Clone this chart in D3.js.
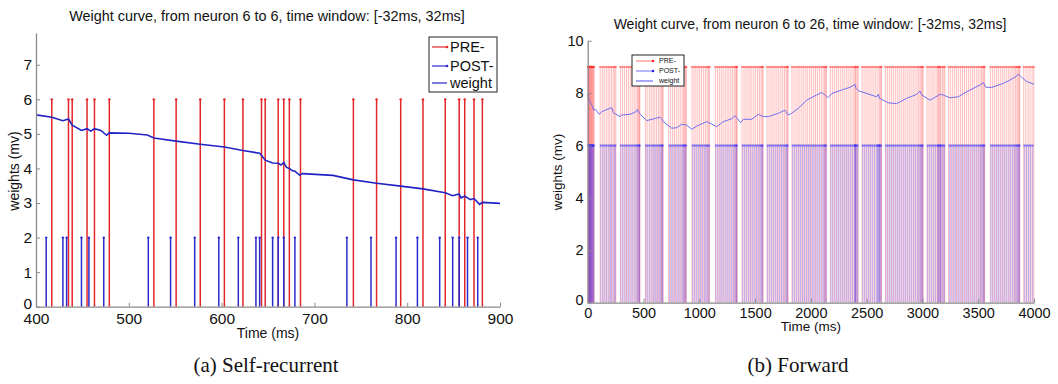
<!DOCTYPE html>
<html>
<head>
<meta charset="utf-8">
<script src="https://cdn.jsdelivr.net/npm/d3@7"></script>
<style>
    body { margin: 0; background: #fff; }
    text { font-family: "Liberation Sans", Arial, sans-serif; }
    .caption { font-family: "Liberation Serif", "DejaVu Serif", serif; }
</style>
</head>
<body>
<svg id="main_svg" width="1058" height="384"></svg>
<script>
// ---- (a) self-recurrent, neuron 6 -> 6 ----
var preA = [417, 435, 439, 455, 463, 479, 527, 551, 577, 603, 623, 643, 647, 661, 667, 673, 685,
            742, 767, 793, 817, 841, 856, 862, 872, 881];
var postA = [411, 429, 433, 449, 457, 473, 521, 545, 571, 597, 618, 637, 641, 655, 661, 667, 679,
             735, 761, 788, 811, 835, 849, 856, 865, 876];
var weightA = [[400, 5.55], [417, 5.48], [429, 5.38], [435, 5.43], [439, 5.25], [449, 5.1], [455, 5.15],
               [459, 5.08], [463, 5.15], [470, 5.1], [476, 4.96], [479, 5.03], [500, 5.02], [520, 4.97],
               [527, 4.88], [551, 4.79], [577, 4.70], [603, 4.62], [623, 4.52], [641, 4.44], [643, 4.38],
               [647, 4.24], [655, 4.16], [661, 4.15], [664, 4.10], [667, 4.17], [670, 4.03], [673, 4.00],
               [676, 3.94], [679, 3.92], [684, 3.81], [687, 3.85], [720, 3.80], [742, 3.67], [767, 3.57],
               [793, 3.49], [817, 3.41], [841, 3.30], [849, 3.21], [856, 3.26], [858, 3.15], [862, 3.20],
               [868, 3.10], [872, 3.13], [878, 2.96], [881, 3.02], [900, 2.99]];
var ticksXA = [400, 500, 600, 700, 800, 900];
var ticksYA = [0, 1, 2, 3, 4, 5, 6, 7];

// ---- (b) forward, neuron 6 -> 26 ----
var preB = [2, 6, 10, 14, 18, 22, 27, 31, 36, 41, 46, 52, 58,
            112, 131, 147, 166, 183, 198, 214, 229, 241, 252,
            293, 311, 329, 348, 364, 381, 399, 417, 433, 446, 455, 464, 468,
            517, 533, 552, 569, 586, 601, 618, 634, 648, 660, 669, 676,
            726, 743, 761, 778, 794, 812, 829, 846, 858, 868, 877, 885,
            935, 953, 970, 988, 1004, 1021, 1039, 1055, 1070, 1082, 1093,
            1144, 1162, 1180, 1197, 1214, 1232, 1249, 1266, 1283, 1299, 1314, 1326, 1334, 1339,
            1383, 1401, 1419, 1437, 1454, 1471, 1489, 1506, 1523, 1539, 1553, 1564, 1571,
            1607, 1625, 1643, 1661, 1678, 1696, 1713, 1731, 1748, 1764, 1778, 1788, 1795,
            1831, 1849, 1867, 1885, 1902, 1920, 1937, 1955, 1972, 1990, 2007, 2025, 2042, 2059, 2077,
            2094, 2110, 2122, 2132, 2140,
            2175, 2193, 2211, 2229, 2246, 2264, 2282, 2299, 2317, 2334, 2352, 2369, 2386, 2397, 2403, 2414, 2424,
            2459, 2477, 2495, 2513, 2530, 2548, 2566, 2583, 2601, 2616, 2626, 2633,
            2668, 2686, 2704, 2722, 2739, 2757, 2775, 2792, 2810, 2828, 2845, 2863, 2881, 2898, 2916,
            2933, 2951, 2966, 2979, 2990, 2999, 3006,
            3041, 3059, 3077, 3095, 3112, 3130, 3140, 3148, 3158, 3165, 3180, 3192, 3201,
            3235, 3253, 3271, 3289, 3306, 3324, 3342, 3359, 3377, 3395, 3412, 3430, 3448, 3465, 3483,
            3500, 3516, 3530, 3542, 3551, 3558,
            3609, 3627, 3645, 3663, 3680, 3698, 3716, 3733, 3751, 3769, 3786, 3804, 3820, 3835, 3847, 3858, 3867, 3873,
            3908, 3927, 3946, 3964, 3983, 3998];
var postB = [4, 8, 12, 16, 20, 25, 29, 34, 39, 44, 50, 56,
             118, 137, 154, 171, 190, 205, 219, 236, 248,
             298, 317, 336, 353, 371, 389, 406, 424, 439, 451, 460, 466,
             523, 540, 558, 577, 593, 609, 625, 641, 655, 665, 673,
             732, 750, 767, 786, 803, 820, 837, 852, 863, 872, 881,
             941, 959, 977, 995, 1012, 1029, 1047, 1062, 1076, 1088,
             1150, 1168, 1187, 1204, 1222, 1240, 1257, 1274, 1291, 1307, 1320, 1330, 1337,
             1389, 1407, 1425, 1443, 1460, 1478, 1496, 1513, 1530, 1546, 1559, 1568,
             1613, 1631, 1649, 1667, 1685, 1702, 1720, 1737, 1754, 1770, 1783, 1792,
             1837, 1855, 1873, 1891, 1908, 1926, 1943, 1961, 1979, 1996, 2014, 2031, 2048, 2066, 2083,
             2100, 2116, 2127, 2137,
             2181, 2199, 2217, 2235, 2252, 2270, 2288, 2305, 2323, 2340, 2358, 2375, 2392, 2397, 2400, 2410, 2420,
             2465, 2483, 2501, 2519, 2536, 2554, 2572, 2590, 2598, 2607, 2614, 2620, 2630,
             2674, 2692, 2710, 2728, 2745, 2763, 2781, 2798, 2816, 2834, 2851, 2869, 2887, 2904, 2922,
             2939, 2957, 2971, 2984, 2994, 3003,
             3047, 3065, 3083, 3101, 3118, 3136, 3144, 3154, 3162, 3170, 3185, 3196,
             3241, 3259, 3277, 3295, 3312, 3330, 3348, 3365, 3383, 3401, 3418, 3436, 3454, 3471, 3489,
             3506, 3521, 3535, 3546, 3554,
             3615, 3633, 3651, 3669, 3686, 3704, 3722, 3739, 3757, 3775, 3792, 3810, 3826, 3840, 3852, 3862, 3870,
             3914, 3933, 3952, 3970, 3989];
var weightB = [[0, 7.93], [15, 7.73], [30, 7.6], [45, 7.48], [51, 7.35], [70, 7.38], [104, 7.19], [125, 7.29],
               [200, 7.42], [215, 7.45], [230, 7.25], [254, 7.19], [290, 7.10], [300, 7.16], [379, 7.19],
               [433, 7.29], [445, 7.38], [463, 7.23], [528, 6.95], [648, 7.08], [663, 7.02], [678, 6.91],
               [753, 6.66], [798, 6.68], [843, 6.81], [887, 6.78], [932, 6.62], [977, 6.74], [1066, 6.91],
               [1111, 6.82], [1156, 6.72], [1216, 6.91], [1290, 7.02], [1320, 7.14], [1335, 7.06], [1371, 6.87],
               [1395, 7.0], [1470, 7.0], [1529, 7.19], [1574, 7.10], [1619, 7.10], [1708, 7.23], [1768, 7.35],
               [1798, 7.16], [1828, 7.23], [1888, 7.42], [1963, 7.73], [2052, 7.93], [2097, 8.02], [2127, 7.93],
               [2151, 7.82], [2187, 7.98], [2277, 8.12], [2351, 8.22], [2396, 8.33], [2405, 8.18], [2426, 8.09],
               [2590, 7.86], [2605, 7.96], [2614, 7.8], [2694, 7.63], [2769, 7.6], [2858, 7.8], [2948, 7.95],
               [2978, 8.08], [2993, 7.93], [3068, 7.73], [3157, 7.95], [3187, 7.93], [3247, 7.82], [3322, 7.86],
               [3396, 8.05], [3516, 8.31], [3546, 8.40], [3570, 8.22], [3621, 8.22], [3725, 8.37], [3785, 8.50],
               [3845, 8.65], [3860, 8.73], [3890, 8.6], [3935, 8.44], [4000, 8.34]];
var ticksXB = [0, 500, 1000, 1500, 2000, 2500, 3000, 3500, 4000];
var ticksYB = [0, 2, 4, 6, 8, 10];

var legendNames = ["PRE-", "POST-", "weight"];

var svg = d3.select("#main_svg");
svg.append("rect").attr("width", 1058).attr("height", 384).attr("fill", "#fff");

// 左图: 自连接
drawPanel({
    title: "Weight curve, from neuron 6 to 6, time window: [-32ms, 32ms]",
    caption: "(a) Self-recurrent",
    xDomain: [400, 900], xRange: [36, 500],
    yDomain: [0, 7.92], yRange: [306.7, 33],
    ticksX: ticksXA, ticksY: ticksYA,
    pre: preA, post: postA, weight: weightA,
    preTop: 6, postTop: 2,
    preColor: "#e3262a", postColor: "#2b2bd0", weightColor: "#2222c4",
    spikeOpacity: 1, markerOpacity: 1, spikeWidth: 1.5, weightWidth: 1.6,
    titleY: 21, titleX: 267, titleSize: 14.4,
    tickSize: 15.5, labelSize: 14,
    xPad: 6,
    xLabelY: 338, yLabelX: 19, yLabelY: 171,
    captionX: 266, captionY: 372,
    legend: {x: 429, y: 37, w: 68, h: 55, rows: [47, 66, 83], line: [432, 447], textX: 450, size: 14.5}
});

// 右图: 前向连接
drawPanel({
    title: "Weight curve, from neuron 6 to 26, time window: [-32ms, 32ms]",
    caption: "(b) Forward",
    xDomain: [0, 4000], xRange: [587.7, 1034],
    yDomain: [0, 10], yRange: [302.7, 40.7],
    ticksX: ticksXB, ticksY: ticksYB,
    pre: preB, post: postB, weight: weightB,
    preTop: 9, postTop: 6,
    preColor: "#ff2020", postColor: "#2020ff", weightColor: "#6f6ff2",
    spikeOpacity: 0.3, markerOpacity: 0.45, spikeWidth: 1, weightWidth: 1,
    titleY: 29, titleX: 810, titleSize: 14,
    tickSize: 14.5, labelSize: 13.5,
    xPad: 5,
    xLabelY: 331, yLabelX: 562, yLabelY: 172,
    captionX: 798, captionY: 372,
    legend: {x: 632, y: 55, w: 52, h: 31, rows: [61, 71, 81], line: [636, 653], textX: 659, size: 7}
});

function drawPanel(cfg) {
    var x = d3.scaleLinear().domain(cfg.xDomain).range(cfg.xRange);
    var y = d3.scaleLinear().domain(cfg.yDomain).range(cfg.yRange);
    var g = svg.append("g");

    // 尖峰 (stem)
    g.append("g")
    .selectAll("line")
    .data(cfg.pre)
    .enter()
    .append("line")
    .attr("x1", function(d) { return x(d); })
    .attr("x2", function(d) { return x(d); })
    .attr("y1", y(0))
    .attr("y2", y(cfg.preTop))
    .attr("stroke", cfg.preColor)
    .attr("stroke-opacity", cfg.spikeOpacity)
    .attr("stroke-width", cfg.spikeWidth);

    g.append("g")
    .selectAll("line")
    .data(cfg.post)
    .enter()
    .append("line")
    .attr("x1", function(d) { return x(d); })
    .attr("x2", function(d) { return x(d); })
    .attr("y1", y(0))
    .attr("y2", y(cfg.postTop))
    .attr("stroke", cfg.postColor)
    .attr("stroke-opacity", cfg.spikeOpacity)
    .attr("stroke-width", cfg.spikeWidth);

    // markers at the stem tops
    g.append("g")
    .selectAll("circle")
    .data(cfg.pre)
    .enter()
    .append("circle")
    .attr("cx", function(d) { return x(d); })
    .attr("cy", y(cfg.preTop))
    .attr("r", 1.2)
    .attr("fill", cfg.preColor)
    .attr("fill-opacity", cfg.markerOpacity);

    g.append("g")
    .selectAll("circle")
    .data(cfg.post)
    .enter()
    .append("circle")
    .attr("cx", function(d) { return x(d); })
    .attr("cy", y(cfg.postTop))
    .attr("r", 1.2)
    .attr("fill", cfg.postColor)
    .attr("fill-opacity", cfg.markerOpacity);

    // weight curve
    var line = d3.line()
        .x(function(d) { return x(d[0]); })
        .y(function(d) { return y(d[1]); });

    g.append("path")
    .datum(cfg.weight)
    .attr("d", line)
    .attr("fill", "none")
    .attr("stroke", cfg.weightColor)
    .attr("stroke-width", cfg.weightWidth);

    // axes, ticks inside
    var xAxis = d3.axisBottom(x).tickValues(cfg.ticksX).tickFormat(d3.format("d"))
        .tickSizeInner(-4).tickSizeOuter(0).tickPadding(cfg.xPad);
    var yAxis = d3.axisLeft(y).tickValues(cfg.ticksY).tickFormat(d3.format("d"))
        .tickSizeInner(-4).tickSizeOuter(0).tickPadding(4);

    var gx = g.append("g")
    .attr("transform", "translate(0," + y(0) + ")")
    .call(xAxis);
    var gy = g.append("g")
    .attr("transform", "translate(" + x(cfg.xDomain[0]) + ",0)")
    .call(yAxis);

    [gx, gy].forEach(function(a) {
        a.select(".domain").attr("stroke", "#8a8a8a").attr("stroke-width", 1.3);
        a.selectAll(".tick line").attr("stroke", "#8a8a8a");
        a.selectAll(".tick text")
        .attr("fill", "#111")
        .attr("font-family", "Liberation Sans, Arial, sans-serif")
        .attr("font-size", cfg.tickSize);
    });
    // the bottom y label sits a bit higher so it does not run into the first x label
    gy.selectAll(".tick text")
    .filter(function(d) { return d === 0; })
    .attr("dy", "0.1em");

    // titles and labels
    g.append("text")
    .attr("x", cfg.titleX)
    .attr("y", cfg.titleY)
    .attr("text-anchor", "middle")
    .attr("font-size", cfg.titleSize)
    .attr("fill", "#111")
    .text(cfg.title);

    g.append("text")
    .attr("x", (cfg.xRange[0] + cfg.xRange[1]) / 2)
    .attr("y", cfg.xLabelY)
    .attr("text-anchor", "middle")
    .attr("font-size", cfg.labelSize)
    .attr("fill", "#111")
    .text("Time (ms)");

    g.append("text")
    .attr("transform", "translate(" + cfg.yLabelX + "," + cfg.yLabelY + ") rotate(-90)")
    .attr("text-anchor", "middle")
    .attr("font-size", cfg.labelSize)
    .attr("fill", "#111")
    .text("weights (mv)");

    g.append("text")
    .attr("class", "caption")
    .attr("x", cfg.captionX)
    .attr("y", cfg.captionY)
    .attr("text-anchor", "middle")
    .attr("font-size", 21)
    .attr("fill", "#111")
    .text(cfg.caption);

    // legend
    var lg = cfg.legend;
    var leg = g.append("g");
    leg.append("rect")
    .attr("x", lg.x).attr("y", lg.y)
    .attr("width", lg.w).attr("height", lg.h)
    .attr("fill", "#fff")
    .attr("stroke", "#222")
    .attr("stroke-width", 1);

    var legColors = [cfg.preColor, cfg.postColor, cfg.weightColor];
    var legOpacity = [Math.min(1, cfg.spikeOpacity * 1.8), Math.min(1, cfg.spikeOpacity * 1.8), 1];
    legendNames.forEach(function(name, i) {
        leg.append("line")
        .attr("x1", lg.line[0]).attr("x2", lg.line[1])
        .attr("y1", lg.rows[i]).attr("y2", lg.rows[i])
        .attr("stroke", legColors[i])
        .attr("stroke-opacity", legOpacity[i])
        .attr("stroke-width", 1.2);
        if (i < 2) {
            leg.append("circle")
            .attr("cx", lg.line[1]).attr("cy", lg.rows[i])
            .attr("r", 1.3)
            .attr("fill", legColors[i]);
        }
        leg.append("text")
        .attr("x", lg.textX)
        .attr("y", lg.rows[i])
        .attr("dy", "0.35em")
        .attr("font-size", lg.size)
        .attr("fill", "#111")
        .text(name);
    });
}
</script>
</body>
</html>
